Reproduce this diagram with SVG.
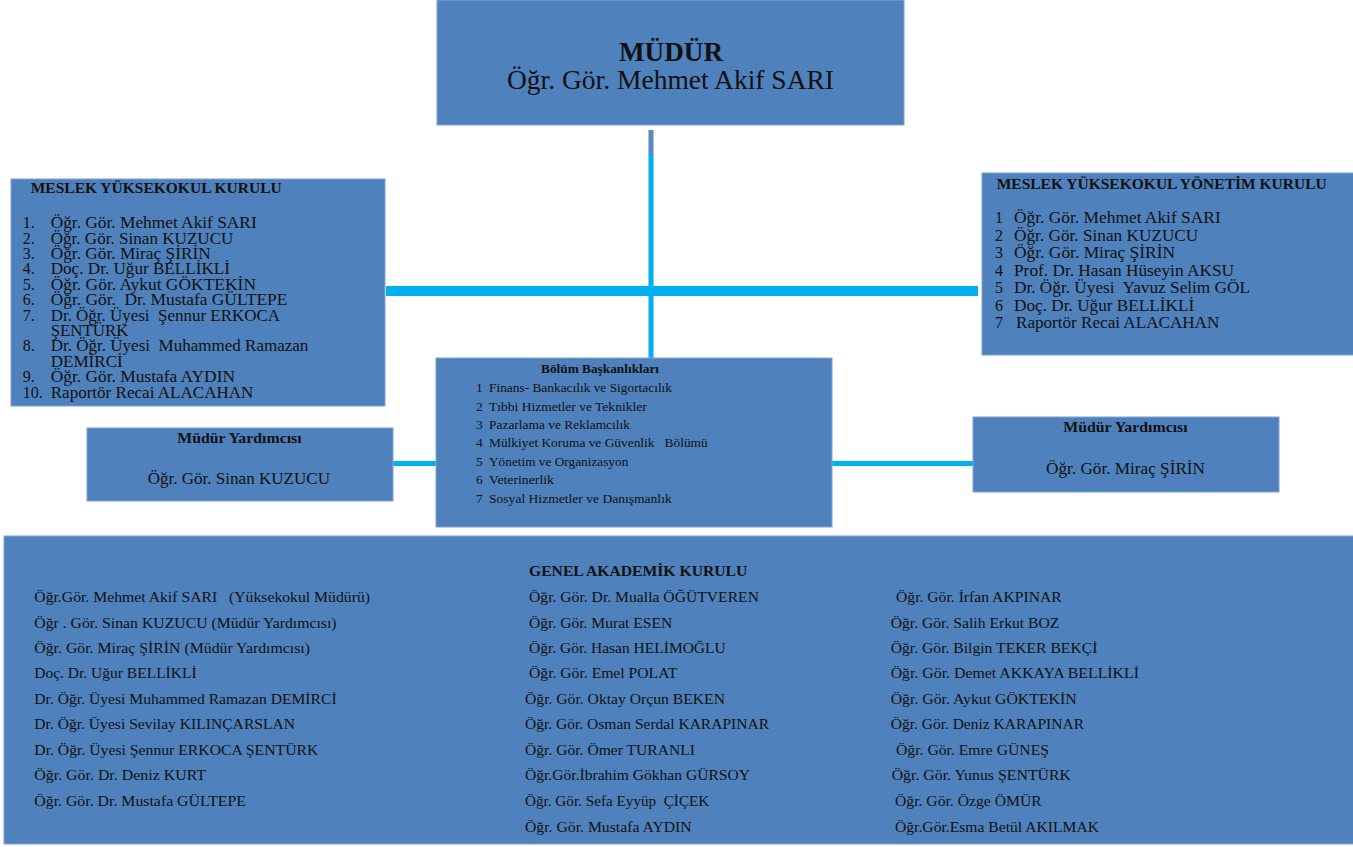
<svg xmlns="http://www.w3.org/2000/svg" width="1353" height="847" viewBox="0 0 1353 847">
<style>
.box{fill:#4F81BD;stroke:#7FA3D3;stroke-width:1}
text{font-family:"Liberation Serif","Times New Roman",Tinos,serif;fill:#111;white-space:pre}
.b{font-weight:bold}
.t16{font-size:16px}
.t15{font-size:15.4px}
.t13{font-size:13.5px}
.line{fill:#00B0F0}
</style>
<rect width="1353" height="847" fill="#fff"/>
<g id="connectors">
<rect x="648.5" y="130" width="5" height="25" fill="#5F85C2"/>
<rect class="line" x="648.5" y="154" width="5" height="204"/>
<rect class="line" x="386" y="286" width="592" height="10"/>
<rect class="line" x="393" y="461" width="51" height="5"/>
<rect class="line" x="832" y="461" width="141" height="5"/>
</g>
<g id="mudur">
<rect class="box" x="437" y="0" width="467" height="125"/>
<text class="b" x="619" y="61" font-size="27" textLength="104" lengthAdjust="spacingAndGlyphs">MÜDÜR</text>
<text x="507" y="89" font-size="27" textLength="327" lengthAdjust="spacingAndGlyphs">Öğr. Gör. Mehmet Akif SARI</text>
</g>
<g id="myk">
<rect class="box" x="11" y="179" width="374" height="227"/>
<text class="b" x="30.7" y="193.3" font-size="15" textLength="251" lengthAdjust="spacingAndGlyphs">MESLEK YÜKSEKOKUL KURULU</text>
<g class="t16">
<text x="22.7" y="228.3">1.</text><text x="50.7" y="228.3" textLength="206" lengthAdjust="spacingAndGlyphs">Öğr. Gör. Mehmet Akif SARI</text>
<text x="22.7" y="243.7">2.</text><text x="50.7" y="243.7" textLength="182.7" lengthAdjust="spacingAndGlyphs">Öğr. Gör. Sinan KUZUCU</text>
<text x="22.7" y="259">3.</text><text x="50.7" y="259" textLength="160" lengthAdjust="spacingAndGlyphs">Öğr. Gör. Miraç ŞİRİN</text>
<text x="22.7" y="274.4">4.</text><text x="50.7" y="274.4" textLength="179.3" lengthAdjust="spacingAndGlyphs">Doç. Dr. Uğur BELLİKLİ</text>
<text x="22.7" y="289.8">5.</text><text x="50.7" y="289.8" textLength="205.3" lengthAdjust="spacingAndGlyphs">Öğr. Gör. Aykut GÖKTEKİN</text>
<text x="22.7" y="305.2">6.</text><text x="50.7" y="305.2" textLength="236.7" lengthAdjust="spacingAndGlyphs">Öğr. Gör.  Dr. Mustafa GÜLTEPE</text>
<text x="22.7" y="320.6">7.</text><text x="50.7" y="320.6" textLength="229.3" lengthAdjust="spacingAndGlyphs">Dr. Öğr. Üyesi  Şennur ERKOCA</text>
<text x="50.7" y="336" textLength="77.7" lengthAdjust="spacingAndGlyphs">ŞENTÜRK</text>
<text x="22.7" y="351.4">8.</text><text x="50.7" y="351.4" textLength="257.7" lengthAdjust="spacingAndGlyphs">Dr. Öğr. Üyesi  Muhammed Ramazan</text>
<text x="50.7" y="366.8" textLength="72" lengthAdjust="spacingAndGlyphs">DEMİRCİ</text>
<text x="22.7" y="382.2">9.</text><text x="50.7" y="382.2" textLength="184.3" lengthAdjust="spacingAndGlyphs">Öğr. Gör. Mustafa AYDIN</text>
<text x="22.7" y="397.6">10.</text><text x="50.7" y="397.6" textLength="202.7" lengthAdjust="spacingAndGlyphs">Raportör Recai ALACAHAN</text>
</g>
</g>
<g id="mykyk">
<rect class="box" x="982" y="173" width="372" height="182"/>
<text class="b" x="996.7" y="189" font-size="15" textLength="330" lengthAdjust="spacingAndGlyphs">MESLEK YÜKSEKOKUL YÖNETİM KURULU</text>
<g class="t16">
<text x="995" y="223.3">1</text><text x="1014" y="223.3" textLength="206.7" lengthAdjust="spacingAndGlyphs">Öğr. Gör. Mehmet Akif SARI</text>
<text x="995" y="240.8">2</text><text x="1014" y="240.8" textLength="184.3" lengthAdjust="spacingAndGlyphs">Öğr. Gör. Sinan KUZUCU</text>
<text x="995" y="258.3">3</text><text x="1014" y="258.3" textLength="161" lengthAdjust="spacingAndGlyphs">Öğr. Gör. Miraç ŞİRİN</text>
<text x="995" y="275.8">4</text><text x="1014" y="275.8" textLength="220" lengthAdjust="spacingAndGlyphs">Prof. Dr. Hasan Hüseyin AKSU</text>
<text x="995" y="293.3">5</text><text x="1014" y="293.3" textLength="236" lengthAdjust="spacingAndGlyphs">Dr. Öğr. Üyesi  Yavuz Selim GÖL</text>
<text x="995" y="310.5">6</text><text x="1014" y="310.5" textLength="180.3" lengthAdjust="spacingAndGlyphs">Doç. Dr. Uğur BELLİKLİ</text>
<text x="995" y="327.5">7</text><text x="1016" y="327.5" textLength="203.3" lengthAdjust="spacingAndGlyphs">Raportör Recai ALACAHAN</text>
</g>
</g>
<g id="bolum">
<rect class="box" x="436" y="358" width="396" height="169"/>
<text class="b t13" x="541" y="373.3" textLength="118" lengthAdjust="spacingAndGlyphs">Bölüm Başkanlıkları</text>
<g class="t13">
<text x="476" y="392.3">1</text><text x="489" y="392.3" textLength="183" lengthAdjust="spacingAndGlyphs">Finans- Bankacılık ve Sigortacılık</text>
<text x="476" y="410.7">2</text><text x="489" y="410.7" textLength="157.7" lengthAdjust="spacingAndGlyphs">Tıbbi Hizmetler ve Teknikler</text>
<text x="476" y="429">3</text><text x="489" y="429" textLength="141" lengthAdjust="spacingAndGlyphs">Pazarlama ve Reklamcılık</text>
<text x="476" y="447.3">4</text><text x="489" y="447.3" textLength="218.7" lengthAdjust="spacingAndGlyphs">Mülkiyet Koruma ve Güvenlik   Bölümü</text>
<text x="476" y="466">5</text><text x="489" y="466" textLength="139.3" lengthAdjust="spacingAndGlyphs">Yönetim ve Organizasyon</text>
<text x="476" y="484.3">6</text><text x="489" y="484.3" textLength="65" lengthAdjust="spacingAndGlyphs">Veterinerlik</text>
<text x="476" y="502.7">7</text><text x="489" y="502.7" textLength="182.7" lengthAdjust="spacingAndGlyphs">Sosyal Hizmetler ve Danışmanlık</text>
</g>
</g>
<g id="my-left">
<rect class="box" x="87" y="428" width="306" height="73"/>
<text class="b" x="177.3" y="443.3" font-size="14.5" textLength="124.3" lengthAdjust="spacingAndGlyphs">Müdür Yardımcısı</text>
<text x="147.7" y="484.3" font-size="17" textLength="182.3" lengthAdjust="spacingAndGlyphs">Öğr. Gör. Sinan KUZUCU</text>
</g>
<g id="my-right">
<rect class="box" x="973" y="417" width="306" height="75"/>
<text class="b" x="1063.3" y="431.7" font-size="14.5" textLength="124.3" lengthAdjust="spacingAndGlyphs">Müdür Yardımcısı</text>
<text x="1046" y="474.3" font-size="17" textLength="159" lengthAdjust="spacingAndGlyphs">Öğr. Gör. Miraç ŞİRİN</text>
</g>
<g id="genel">
<rect class="box" x="4" y="536" width="1350" height="308"/>
<text class="b" x="529" y="575.7" font-size="15" textLength="218.3" lengthAdjust="spacingAndGlyphs">GENEL AKADEMİK KURULU</text>
<g class="t15">
<text x="34.3" y="602" textLength="335.7" lengthAdjust="spacingAndGlyphs">Öğr.Gör. Mehmet Akif SARI   (Yüksekokul Müdürü)</text>
<text x="34.3" y="627.7" textLength="302.3" lengthAdjust="spacingAndGlyphs">Öğr . Gör. Sinan KUZUCU (Müdür Yardımcısı)</text>
<text x="34.3" y="652.7" textLength="275.7" lengthAdjust="spacingAndGlyphs">Öğr. Gör. Miraç ŞİRİN (Müdür Yardımcısı)</text>
<text x="34.3" y="678.3" textLength="162.3" lengthAdjust="spacingAndGlyphs">Doç. Dr. Uğur BELLİKLİ</text>
<text x="34.3" y="704.3" textLength="302.3" lengthAdjust="spacingAndGlyphs">Dr. Öğr. Üyesi Muhammed Ramazan DEMİRCİ</text>
<text x="34.3" y="729.3" textLength="260.7" lengthAdjust="spacingAndGlyphs">Dr. Öğr. Üyesi Sevilay KILINÇARSLAN</text>
<text x="34.3" y="755" textLength="284" lengthAdjust="spacingAndGlyphs">Dr. Öğr. Üyesi Şennur ERKOCA ŞENTÜRK</text>
<text x="34.3" y="780" textLength="171.7" lengthAdjust="spacingAndGlyphs">Öğr. Gör. Dr. Deniz KURT</text>
<text x="34.3" y="806" textLength="211.7" lengthAdjust="spacingAndGlyphs">Öğr. Gör. Dr. Mustafa GÜLTEPE</text>

<text x="529" y="602" textLength="230" lengthAdjust="spacingAndGlyphs">Öğr. Gör. Dr. Mualla ÖĞÜTVEREN</text>
<text x="529" y="627.7" textLength="143.3" lengthAdjust="spacingAndGlyphs">Öğr. Gör. Murat ESEN</text>
<text x="529" y="652.7" textLength="196.7" lengthAdjust="spacingAndGlyphs">Öğr. Gör. Hasan HELİMOĞLU</text>
<text x="529" y="678.3" textLength="148.3" lengthAdjust="spacingAndGlyphs">Öğr. Gör. Emel POLAT</text>
<text x="525" y="704.3" textLength="200" lengthAdjust="spacingAndGlyphs">Öğr. Gör. Oktay Orçun BEKEN</text>
<text x="525" y="729.3" textLength="244" lengthAdjust="spacingAndGlyphs">Öğr. Gör. Osman Serdal KARAPINAR</text>
<text x="525" y="755" textLength="170" lengthAdjust="spacingAndGlyphs">Öğr. Gör. Ömer TURANLI</text>
<text x="525" y="780" textLength="225" lengthAdjust="spacingAndGlyphs">Öğr.Gör.İbrahim Gökhan GÜRSOY</text>
<text x="525" y="806" textLength="184.3" lengthAdjust="spacingAndGlyphs">Öğr. Gör. Sefa Eyyüp  ÇİÇEK</text>
<text x="525" y="831.5" textLength="166.7" lengthAdjust="spacingAndGlyphs">Öğr. Gör. Mustafa AYDIN</text>

<text x="896" y="602" textLength="165.7" lengthAdjust="spacingAndGlyphs">Öğr. Gör. İrfan AKPINAR</text>
<text x="890.7" y="627.7" textLength="168.7" lengthAdjust="spacingAndGlyphs">Öğr. Gör. Salih Erkut BOZ</text>
<text x="890.7" y="652.7" textLength="206.7" lengthAdjust="spacingAndGlyphs">Öğr. Gör. Bilgin TEKER BEKÇİ</text>
<text x="890.7" y="678.3" textLength="248.3" lengthAdjust="spacingAndGlyphs">Öğr. Gör. Demet AKKAYA BELLİKLİ</text>
<text x="890.7" y="704.3" textLength="186" lengthAdjust="spacingAndGlyphs">Öğr. Gör. Aykut GÖKTEKİN</text>
<text x="890.7" y="729.3" textLength="193.3" lengthAdjust="spacingAndGlyphs">Öğr. Gör. Deniz KARAPINAR</text>
<text x="896" y="755" textLength="153" lengthAdjust="spacingAndGlyphs">Öğr. Gör. Emre GÜNEŞ</text>
<text x="891.7" y="780" textLength="179.3" lengthAdjust="spacingAndGlyphs">Öğr. Gör. Yunus ŞENTÜRK</text>
<text x="895" y="806" textLength="146.7" lengthAdjust="spacingAndGlyphs">Öğr. Gör. Özge ÖMÜR</text>
<text x="895" y="831.5" textLength="204" lengthAdjust="spacingAndGlyphs">Öğr.Gör.Esma Betül AKILMAK</text>
</g>
</g>
</svg>
